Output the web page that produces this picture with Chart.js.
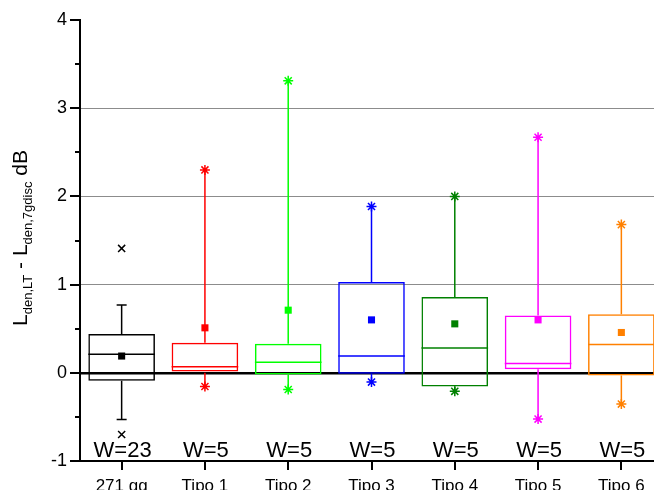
<!DOCTYPE html>
<html>
<head>
<meta charset="utf-8">
<script src="https://cdn.jsdelivr.net/npm/chart.js@4"></script>
<style>
  html, body { margin: 0; padding: 0; background: #fff; overflow: hidden; }
  #wrap { width: 680px; height: 500px; }
</style>
</head>
<body>
<div id="wrap"><canvas id="chart"></canvas></div>
<script>
// ---------------- data ----------------
const categories = ['271 gg', 'Tipo 1', 'Tipo 2', 'Tipo 3', 'Tipo 4', 'Tipo 5', 'Tipo 6']
const colors = ['#000000', '#ff0000', '#00ff00', '#0000ff', '#008000', '#ff00ff', '#ff8000']
const q1 = [-0.09, 0.00, -0.02, -0.01, -0.155, 0.04, -0.03]
const q3 = [0.44, 0.34, 0.33, 1.03, 0.86, 0.65, 0.665]
const medians = [0.21, 0.07, 0.12, 0.19, 0.28, 0.105, 0.32]
const means = [0.19, 0.51, 0.71, 0.60, 0.555, 0.60, 0.457]
const whiskerHi = [0.77, 2.30, 3.31, 1.885, 2.00, 2.67, 1.68]
const whiskerLo = [-0.53, -0.155, -0.19, -0.105, -0.21, -0.525, -0.355]
const maxMarks = [1.41, 2.30, 3.31, 1.885, 2.00, 2.67, 1.68]
const minMarks = [-0.70, -0.155, -0.19, -0.105, -0.21, -0.525, -0.355]
const markStyles = ['crossRot', 'star', 'star', 'star', 'star', 'star', 'star']
const counts = ['W=23', 'W=5', 'W=5', 'W=5', 'W=5', 'W=5', 'W=5']
const yTicks = [-1, 0, 1, 2, 3, 4]

const FONT = 'Arial, "Liberation Sans", sans-serif'

// ---------------- plugins ----------------
const boxExtras = {
    id: 'boxExtras',
    afterDatasetsDraw(chart) {
        const ctx = chart.ctx
        const y = chart.scales.y
        const bars = chart.getDatasetMeta(0).data
        ctx.save()
        bars.forEach((bar, i) => {
            const x = bar.x
            const half = bar.width / 2
            ctx.strokeStyle = colors[i]
            ctx.lineWidth = 1.5
            // median
            ctx.beginPath()
            ctx.moveTo(x - half, y.getPixelForValue(medians[i]))
            ctx.lineTo(x + half, y.getPixelForValue(medians[i]))
            ctx.stroke()
            // whiskers
            ctx.beginPath()
            ctx.moveTo(x, y.getPixelForValue(q3[i]))
            ctx.lineTo(x, y.getPixelForValue(whiskerHi[i]))
            ctx.moveTo(x, y.getPixelForValue(q1[i]))
            ctx.lineTo(x, y.getPixelForValue(whiskerLo[i]))
            ctx.stroke()
            // caps only when whisker ends differ from the marks
            if (whiskerHi[i] !== maxMarks[i]) {
                ctx.beginPath()
                ctx.moveTo(x - 5, y.getPixelForValue(whiskerHi[i]))
                ctx.lineTo(x + 5, y.getPixelForValue(whiskerHi[i]))
                ctx.moveTo(x - 5, y.getPixelForValue(whiskerLo[i]))
                ctx.lineTo(x + 5, y.getPixelForValue(whiskerLo[i]))
                ctx.stroke()
            }
            // count labels
            ctx.fillStyle = '#000'
            ctx.font = '22px ' + FONT
            ctx.textAlign = 'center'
            ctx.textBaseline = 'alphabetic'
            ctx.fillText(counts[i], x + 1, y.getPixelForValue(-0.955))
        })
        ctx.restore()
    }
}

const axisExtras = {
    id: 'axisExtras',
    afterDraw(chart) {
        const ctx = chart.ctx
        const y = chart.scales.y
        const left = chart.chartArea.left
        ctx.save()
        ctx.strokeStyle = '#000'
        ctx.lineWidth = 2
        for (let v = -1; v <= 4; v += 0.5) {
            const py = Math.round(y.getPixelForValue(v))
            const len = Number.isInteger(v) ? 10 : 5
            ctx.beginPath()
            ctx.moveTo(left - len, py)
            ctx.lineTo(left, py)
            ctx.stroke()
        }
        // y axis title with subscripts
        const parts = [
            ['L', 21, 0], ['den,LT', 13, 5], [' - L', 21, 0], ['den,7gdisc', 13, 5], [' dB', 21, 0]
        ]
        let total = 0
        parts.forEach(p => { ctx.font = p[1] + 'px ' + FONT; total += ctx.measureText(p[0]).width })
        ctx.translate(27, 238)
        ctx.rotate(-Math.PI / 2)
        ctx.fillStyle = '#000'
        ctx.textAlign = 'left'
        ctx.textBaseline = 'alphabetic'
        let cx = -total / 2
        parts.forEach(p => {
            ctx.font = p[1] + 'px ' + FONT
            ctx.fillText(p[0], cx, p[2])
            cx += ctx.measureText(p[0]).width
        })
        ctx.restore()
    }
}

// ---------------- chart ----------------
const boxData = categories.map((c, i) => [q1[i], q3[i]])

new Chart(document.getElementById('chart'), {
    data: {
        labels: categories,
        datasets: [
            {
                type: 'bar',
                data: boxData,
                backgroundColor: 'rgba(0,0,0,0)',
                borderColor: colors,
                borderWidth: 1.5,
                borderSkipped: false,
                barPercentage: 0.8,
                categoryPercentage: 1,
                order: 3
            },
            {
                type: 'line',
                data: means,
                showLine: false,
                pointStyle: 'rect',
                pointRadius: 5,
                pointBackgroundColor: colors,
                pointBorderColor: colors,
                pointBorderWidth: 0,
                order: 1
            },
            {
                type: 'line',
                data: maxMarks,
                showLine: false,
                pointStyle: markStyles,
                pointRadius: 5,
                pointBorderColor: colors,
                pointBorderWidth: 1.5,
                order: 1
            },
            {
                type: 'line',
                data: minMarks,
                showLine: false,
                pointStyle: markStyles,
                pointRadius: 5,
                pointBorderColor: colors,
                pointBorderWidth: 1.5,
                order: 1
            }
        ]
    },
    options: {
        responsive: true,
        maintainAspectRatio: false,
        animation: false,
        layout: { autoPadding: false, padding: { top: 20, right: 17, left: 0, bottom: 0 } },
        plugins: { legend: { display: false }, tooltip: { enabled: false } },
        scales: {
            x: {
                type: 'category',
                offset: true,
                grid: { display: true, drawOnChartArea: false, offset: false, color: '#000', lineWidth: 2, tickLength: 9 },
                border: { color: '#000', width: 2 },
                ticks: { color: '#000', font: { family: FONT, size: 17 }, padding: 6, maxRotation: 0 },
                afterFit: (s) => { s.height = 39 }
            },
            y: {
                min: -1,
                max: 4,
                afterBuildTicks: (s) => { s.ticks = yTicks.map(v => ({ value: v })) },
                grid: {
                    drawTicks: false,
                    color: (c) => c.tick.value === 0 ? '#000' : (c.tick.value > 0 && c.tick.value < 4 ? '#8c8c8c' : 'rgba(0,0,0,0)'),
                    lineWidth: (c) => c.tick.value === 0 ? 2.5 : 1
                },
                border: { color: '#000', width: 2 },
                ticks: { color: '#000', font: { family: FONT, size: 18 }, padding: 13 },
                afterFit: (s) => { s.width = 80; s.paddingTop = 0; s.paddingBottom = 0 }
            }
        }
    },
    plugins: [boxExtras, axisExtras]
})
</script>
</body>
</html>
